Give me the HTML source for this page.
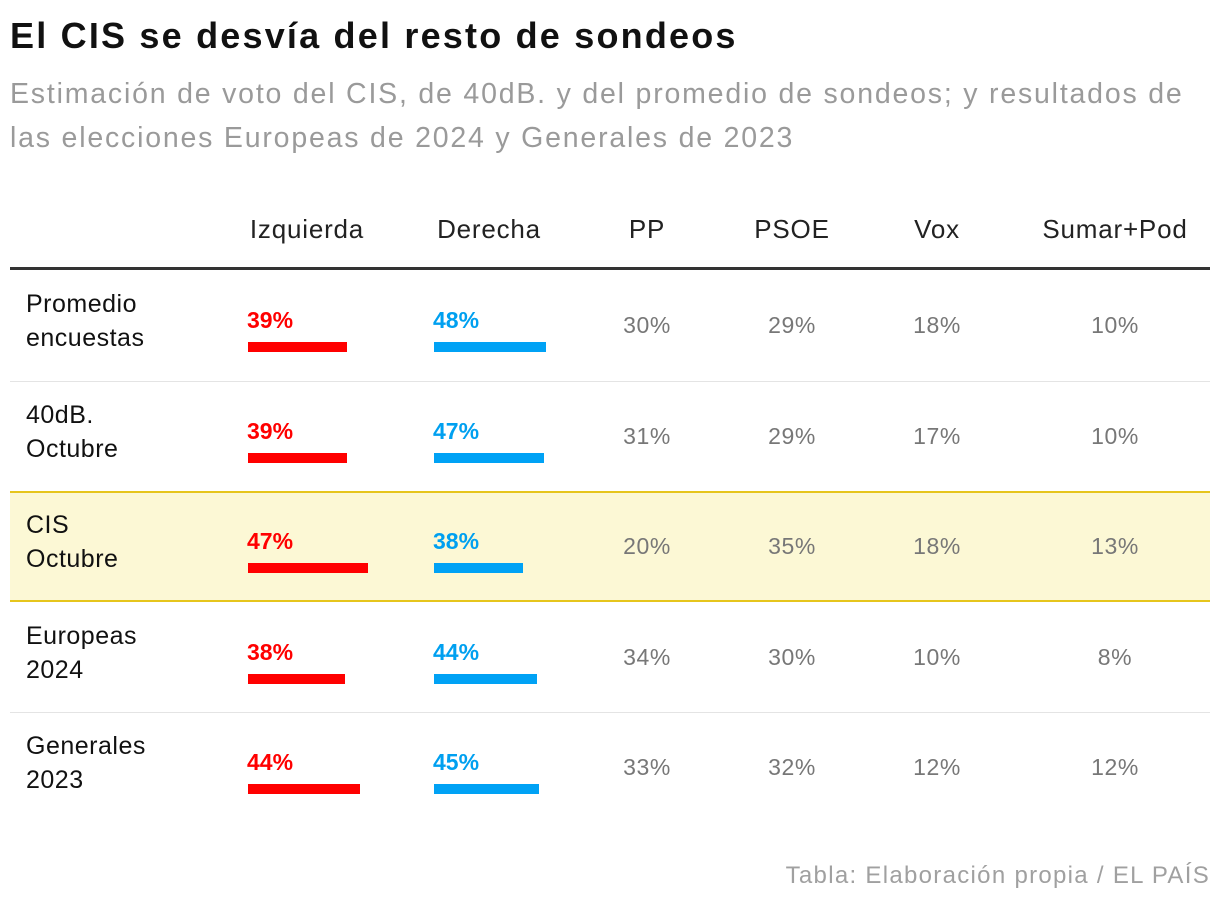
<!DOCTYPE html>
<html><head><meta charset="utf-8"><style>
body{margin:0;width:1220px;height:906px;background:#fff;font-family:"Liberation Sans",sans-serif;position:relative;overflow:hidden}
.a{position:absolute}
h1{position:absolute;left:10px;top:15px;margin:0;font-size:36px;font-weight:bold;color:#111;letter-spacing:2.2px;white-space:nowrap}
.sub{left:10px;top:72px;font-size:28.5px;line-height:44px;color:#9a9a9a;width:1210px;letter-spacing:1.8px;white-space:nowrap}
.hd{top:214px;font-size:26px;color:#222;text-align:center;letter-spacing:0.8px}
.lbl{left:26px;font-size:25px;line-height:34px;color:#111;letter-spacing:0.5px}
.v{font-size:23px;font-weight:bold}
.n{font-size:23px;color:#777;text-align:center;letter-spacing:0.6px}
</style></head><body>
<h1>El CIS se desvía del resto de sondeos</h1>
<div class="a sub">Estimación de voto del CIS, de 40dB. y del promedio de sondeos; y resultados de<br>las elecciones Europeas de 2024 y Generales de 2023</div>
<div id="t"></div>
<div class="a" style="right:10px;top:862px;font-size:24px;color:#a0a0a0;letter-spacing:1.3px">Tabla: Elaboración propia / EL PAÍS</div>
<script>
const rows=["Promedio|encuestas","40dB.|Octubre","CIS|Octubre","Europeas|2024","Generales|2023"];
const izq=[39,39,47,38,44];
const der=[48,47,38,44,45];
const pp=[30,31,20,34,33];
const psoe=[29,29,35,30,32];
const vox=[18,17,18,10,12];
const sumar=[10,10,13,8,12];
const headers=["Izquierda","Derecha","PP","PSOE","Vox","Sumar+Pod"];
const hx=[307,489,647,792,937,1115];
const t=document.getElementById('t');
function mk(cls,css,txt,name){const e=document.createElement('div');e.className='a '+cls;e.style.cssText=css;if(txt!=null)e.innerHTML=txt;


t.appendChild(e);return e;}
headers.forEach((h,i)=>mk('hd',`left:${hx[i]-100}px;width:200px`,h,'column-header'));
mk('',`left:10px;top:267px;width:1200px;height:3px;background:#333`,null,'header-rule');
const top0=270,rh=110.5;
rows.forEach((r,i)=>{
 const y=top0+i*rh;
 if(i===2)mk('',`left:10px;top:${y}px;width:1200px;height:${rh}px;background:#fcf8d5;border-top:2px solid #e6c51c;border-bottom:2px solid #e6c51c;box-sizing:border-box`,null,'highlight-row');
 else if(i===0||i===3)mk('',`left:10px;top:${y+rh}px;width:1200px;height:1px;background:#e4e4e4`,null,'row-divider');
 const c=y+rh/2;
 mk('lbl',`top:${c-38}px`,r.replace('|','<br>'),'row-label');
 mk('v',`left:247px;top:${c-18}px;color:#f00`,izq[i]+'%','izquierda-value');
 mk('',`left:248px;top:${c+17}px;height:10px;width:${izq[i]*2.55}px;background:#f00`,null,'izquierda-bar');
 mk('v',`left:433px;top:${c-18}px;color:#00a0f0`,der[i]+'%','derecha-value');
 mk('',`left:434px;top:${c+17}px;height:10px;width:${der[i]*2.33}px;background:#00a2f5`,null,'derecha-bar');
 [pp,psoe,vox,sumar].forEach((a,k)=>mk('n',`left:${hx[k+2]-60}px;width:120px;top:${c-13}px`,a[i]+'%','party-value'));
});
</script>
</body></html>
